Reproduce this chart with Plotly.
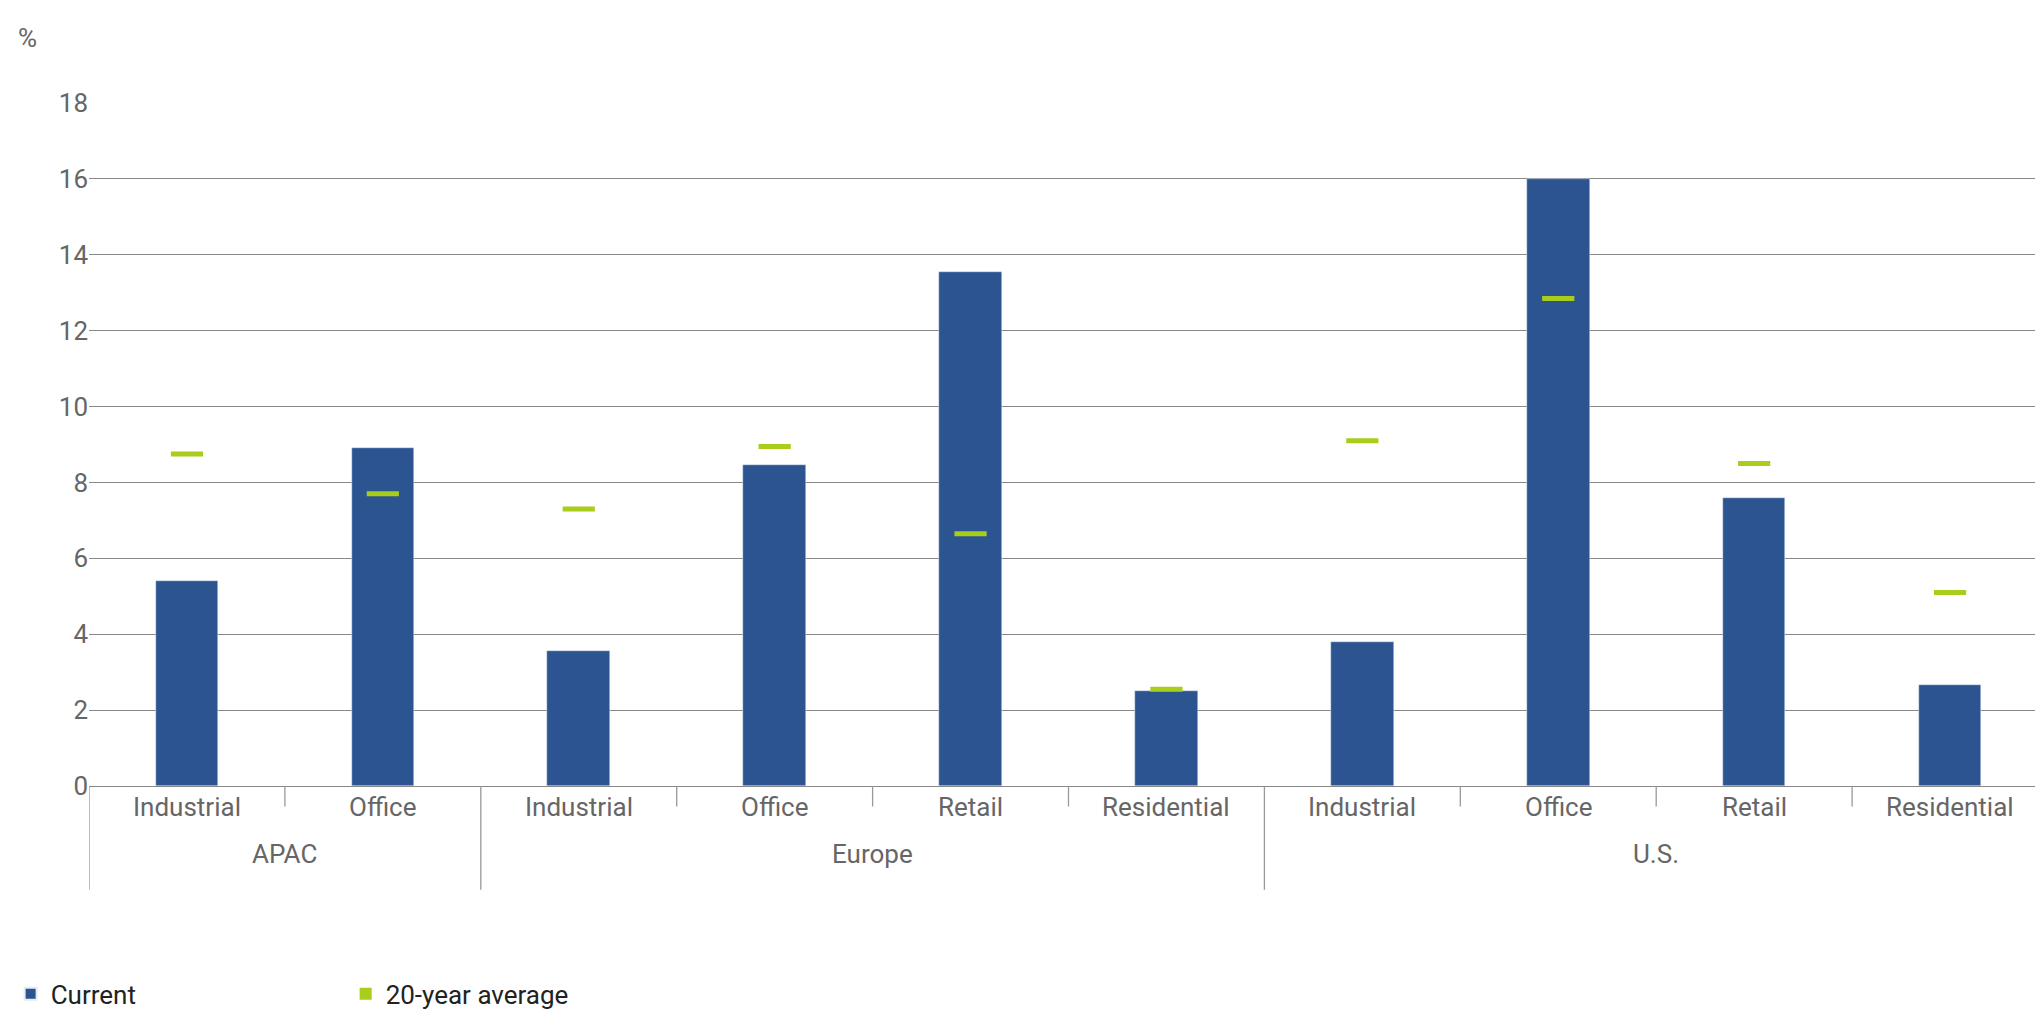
import plotly.graph_objects as go

groups = ["APAC", "APAC", "Europe", "Europe", "Europe", "Europe", "U.S.", "U.S.", "U.S.", "U.S."]
sectors = ["Industrial", "Office", "Industrial", "Office", "Retail", "Residential",
           "Industrial", "Office", "Retail", "Residential"]
current = [5.4, 8.9, 3.55, 8.45, 13.55, 2.5, 3.8, 16.0, 7.6, 2.65]
avg20 = [8.75, 7.7, 7.3, 8.95, 6.65, 2.55, 9.1, 12.85, 8.5, 5.1]
y_ticks = [0, 2, 4, 6, 8, 10, 12, 14, 16, 18]

BLUE = "#2b5491"
GREEN = "#a8cd1b"
GRAY = "#666666"
FONT = "Roboto"

xs = list(range(len(sectors)))
fig = go.Figure()
fig.add_trace(go.Bar(x=xs, y=current, width=0.32, marker_color=BLUE, name="Current"))
fig.add_trace(go.Scatter(x=xs, y=avg20, mode="markers", showlegend=False,
                         marker=dict(symbol="line-ew", size=23, line=dict(color=GREEN, width=5))))
fig.add_trace(go.Scatter(x=[None], y=[None], mode="markers", name="20-year average",
                         marker=dict(symbol="square", size=20, color=GREEN)))

shapes = []
ann = []
for i, s in enumerate(sectors):
    ann.append(dict(x=i, y=-0.055, xref="x", yref="paper", text=s, showarrow=False,
                    font=dict(size=26, color=GRAY, family=FONT)))
# dividers
for i in range(len(sectors) + 1):
    b = i - 0.5
    if i == 0 or i == len(sectors) or groups[i] != groups[i - 1]:
        y1 = -0.152
    else:
        y1 = -0.03
    shapes.append(dict(type="line", xref="x", yref="paper", x0=b, x1=b, y0=0, y1=y1,
                       line=dict(color="#999999", width=1.3)))
# group labels
seen = []
for g in groups:
    if g not in seen:
        seen.append(g)
for g in seen:
    idx = [i for i, gg in enumerate(groups) if gg == g]
    ann.append(dict(x=(idx[0] + idx[-1]) / 2, y=-0.125, xref="x", yref="paper", text=g,
                    showarrow=False, font=dict(size=26, color=GRAY, family=FONT)))
ann.append(dict(x=-78/2040*0+0, y=1.12, xref="paper", yref="paper", xanchor="right",
                xshift=-50, text="%", showarrow=False, font=dict(size=26, color=GRAY, family=FONT)))

fig.update_layout(
    width=2043, height=1012, plot_bgcolor="white", paper_bgcolor="white",
    margin=dict(l=78, r=3, t=95, b=218),
    font=dict(family=FONT, color=GRAY, size=26),
    xaxis=dict(range=[-0.5, 9.5], showticklabels=False, showgrid=False, zeroline=False,
               showline=False),
    yaxis=dict(range=[0, 18], tickvals=y_ticks, showgrid=True, gridcolor="#888888",
               gridwidth=1.3, zeroline=True, zerolinecolor="#888888", zerolinewidth=1.3,
               tickfont=dict(size=26, color=GRAY), ticklen=0, ticks=""),
    shapes=shapes, annotations=ann, showlegend=True,
    legend=dict(orientation="h", x=-0.04, y=-0.27, xanchor="left", yanchor="top",
                entrywidth=290, entrywidthmode="pixels",
                font=dict(size=26, color="#222222", family=FONT), itemsizing="constant"),
    bargap=0,
)
fig.write_html("out.html")
